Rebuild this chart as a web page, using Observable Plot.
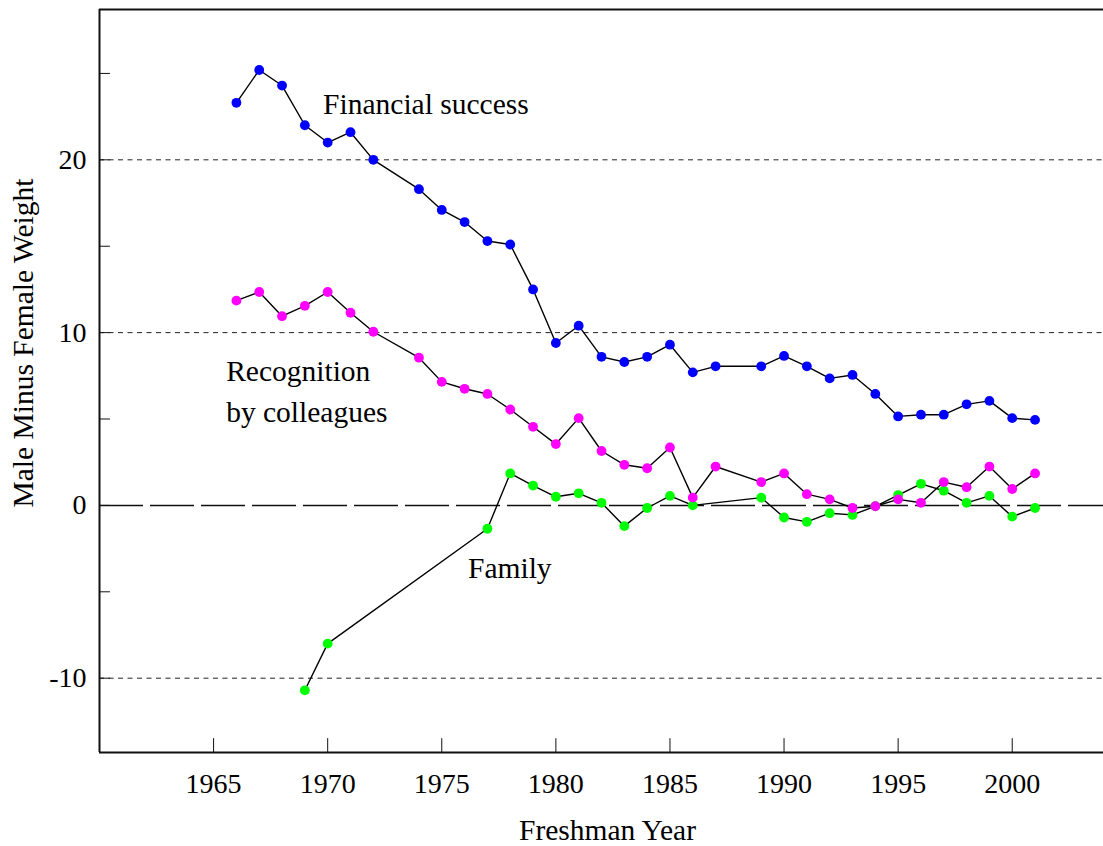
<!DOCTYPE html>
<html>
<head>
<meta charset="utf-8">
<script src="https://cdn.jsdelivr.net/npm/d3@7"></script>
<script src="https://cdn.jsdelivr.net/npm/@observablehq/plot@0.6"></script>
<style>
  html, body { margin: 0; padding: 0; background: #fff; }
</style>
</head>
<body>
<script>
// ---- Data ----
const seriesNames = ["Financial success", "Family", "Recognition by colleagues"];
const seriesColors = ["#0000ff", "#00ff00", "#ff00ff"];

const mainYears = [1966,1967,1968,1969,1970,1971,1972,
  1974,1975,1976,1977,1978,1979,1980,1981,1982,1983,1984,1985,1986,1987,
  1989,1990,1991,1992,1993,1994,1995,1996,1997,1998,1999,2000,2001];

const financialValues = [23.3,25.2,24.3,22.0,21.0,21.6,20.0,
  18.3,17.1,16.4,15.3,15.1,12.5,9.4,10.4,8.6,8.3,8.6,9.3,7.7,8.05,
  8.05,8.65,8.05,7.35,7.55,6.45,5.15,5.25,5.25,5.85,6.05,5.05,4.95];

const recognitionValues = [11.85,12.35,10.95,11.55,12.35,11.15,10.05,
  8.55,7.15,6.75,6.45,5.55,4.55,3.55,5.05,3.15,2.35,2.15,3.35,0.45,2.25,
  1.35,1.85,0.65,0.35,-0.15,-0.05,0.35,0.15,1.35,1.05,2.25,0.95,1.85];

const familyYears = [1969,1970,
  1977,1978,1979,1980,1981,1982,1983,1984,1985,1986,
  1989,1990,1991,1992,1993,1994,1995,1996,1997,1998,1999,2000,2001];
const familyValues = [-10.7,-8.0,
  -1.35,1.85,1.15,0.5,0.7,0.15,-1.2,-0.15,0.55,0.0,
  0.45,-0.7,-0.95,-0.45,-0.55,-0.05,0.6,1.25,0.85,0.15,0.55,-0.65,-0.15];

const xTicks = [1965,1970,1975,1980,1985,1990,1995,2000];
const yTicks = [-10,0,10,20];
const yMinorTicks = [-10,-5,0,5,10,15,20,25];
const dashedGrid = [-10,10,20];

const xDomain = [1960, 2004];
const yDomain = [-14.3, 28.7];

const xTitle = "Freshman Year";
const yTitle = "Male Minus Female Weight";

// annotation labels (anchored in data space)
const labels = [
  {text: "Financial success", year: 1969.8, value: 23.2},
  {text: "Recognition", year: 1965.55, value: 7.75},
  {text: "by colleagues", year: 1965.55, value: 5.4},
  {text: "Family", year: 1976.15, value: -3.65}
];

// ---- Build table ----
const rows = [];
mainYears.forEach((y, i) => rows.push({series: seriesNames[0], year: y, value: financialValues[i]}));
familyYears.forEach((y, i) => rows.push({series: seriesNames[1], year: y, value: familyValues[i]}));
mainYears.forEach((y, i) => rows.push({series: seriesNames[2], year: y, value: recognitionValues[i]}));

const fmt = d => String(d);
const font = "'Liberation Serif', 'Times New Roman', Times, serif";

const chart = Plot.plot({
  width: 1103,
  height: 846,
  marginLeft: 99,
  marginRight: 0,
  marginTop: 9,
  marginBottom: 94,
  style: {fontFamily: font, fontSize: "28px", color: "black", background: "white"},
  x: {domain: xDomain},
  y: {domain: yDomain},
  color: {domain: seriesNames, range: seriesColors},
  marks: [
    // dashed gridlines
    Plot.ruleY(dashedGrid, {stroke: "#222", strokeWidth: 1, strokeDasharray: "5,4.5"}),
    Plot.ruleY([0], {stroke: "#111", strokeWidth: 1.5, strokeDasharray: "44,7"}),
    // frame (left, top, bottom)
    Plot.ruleX([xDomain[0]], {stroke: "#111", strokeWidth: 2}),
    Plot.ruleY([yDomain[1], yDomain[0]], {stroke: "#111", strokeWidth: 2}),
    // inward ticks
    Plot.ruleY(yMinorTicks, {x1: xDomain[0], x2: xDomain[0] + 0.48, stroke: "#111", strokeWidth: 1}),
    Plot.ruleX(xTicks, {y1: yDomain[0], y2: yDomain[0] + 0.8, stroke: "#111", strokeWidth: 1}),
    // axes (labels only)
    Plot.axisY(yTicks, {tickSize: 0, tickPadding: 13, label: null, tickFormat: fmt}),
    Plot.axisX(xTicks, {tickSize: 0, tickPadding: 21, label: null, tickFormat: fmt}),
    // axis titles
    Plot.text([xTitle], {frameAnchor: "bottom", dx: 6, dy: 78, text: d => d, textAnchor: "middle", lineAnchor: "middle", fontSize: 29.5}),
    Plot.text([yTitle], {frameAnchor: "left", dx: -76, dy: -38, rotate: -90, text: d => d, textAnchor: "middle", lineAnchor: "middle", fontSize: 29.5}),
    // series
    Plot.line(rows, {x: "year", y: "value", z: "series", stroke: "black", strokeWidth: 1.4}),
    Plot.dot(rows, {x: "year", y: "value", fill: "series", r: 4.9}),
    // annotations
    Plot.text(labels, {x: "year", y: "value", text: "text", textAnchor: "start", lineAnchor: "middle", fontSize: 29.5})
  ]
});

document.body.appendChild(chart);
</script>
</body>
</html>
